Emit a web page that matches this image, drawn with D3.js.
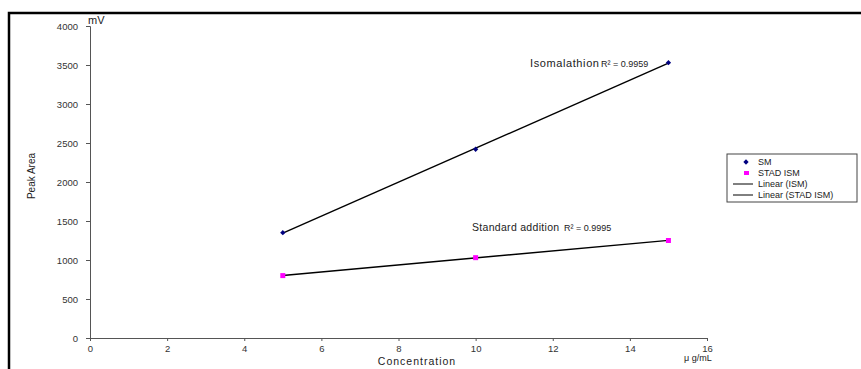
<!DOCTYPE html>
<meta charset="utf-8">
<body style="margin:0;background:#fff">
<script src="https://cdn.jsdelivr.net/npm/d3@7"></script>
<svg id="chart" width="861" height="369"></svg>
<script>
// data
var conc = [5, 10, 15];
var ism = [1350, 2420, 3530];
var stadIsm = [800, 1030, 1250];
var xTicks = [0, 2, 4, 6, 8, 10, 12, 14, 16];
var yTicks = [0, 500, 1000, 1500, 2000, 2500, 3000, 3500, 4000];
var legendNames = ["SM", "STAD ISM", "Linear (ISM)", "Linear (STAD ISM)"];

var svg = d3.select("#chart");
var font = "Liberation Sans, Arial, sans-serif";

// outer frame
svg.append("rect").attr("x", 9).attr("y", 13).attr("width", 900).attr("height", 400)
  .attr("fill", "none").attr("stroke", "#000").attr("stroke-width", 2.5);

var x = d3.scaleLinear().domain([0, 16]).range([90, 707]);
var y = d3.scaleLinear().domain([0, 4000]).range([338, 26]);

var xAxis = svg.append("g").attr("transform", "translate(0,338)")
  .call(d3.axisBottom(x).tickValues(xTicks).tickSize(3).tickPadding(4).tickFormat(d3.format("d")));
var yAxis = svg.append("g").attr("transform", "translate(90,0)")
  .call(d3.axisLeft(y).tickValues(yTicks).tickSize(4).tickPadding(8).tickFormat(d3.format("d")));

[xAxis, yAxis].forEach(function(a) {
  a.select(".domain").attr("stroke", "#555");
  a.selectAll(".tick line").attr("stroke", "#555");
  a.selectAll("text").attr("fill", "#333").style("font-family", font).style("font-size", "9.5px");
});

// linear fit
function fit(xs, ys) {
  var n = xs.length, mx = d3.mean(xs), my = d3.mean(ys);
  var sxy = 0, sxx = 0;
  for (var i = 0; i < n; i++) { sxy += (xs[i]-mx)*(ys[i]-my); sxx += (xs[i]-mx)*(xs[i]-mx); }
  var b = sxy / sxx;
  return function(v) { return my + b*(v - mx); };
}
var line = d3.line().x(function(d){ return x(d[0]); }).y(function(d){ return y(d[1]); });
[ism, stadIsm].forEach(function(s) {
  var f = fit(conc, s);
  var ext = d3.extent(conc);
  svg.append("path").attr("d", line([[ext[0], f(ext[0])], [ext[1], f(ext[1])]]))
    .attr("stroke", "#000").attr("stroke-width", 1.4).attr("fill", "none");
});

// markers
var diamond = d3.symbol().type(d3.symbolSquare).size(14);
svg.selectAll(".ism").data(conc).enter().append("path")
  .attr("transform", function(d, i){ return "translate(" + x(d) + "," + y(ism[i]) + ") rotate(45)"; })
  .attr("d", diamond).attr("fill", "#000080");
svg.selectAll(".stad").data(conc).enter().append("rect")
  .attr("x", function(d){ return x(d) - 2.5; })
  .attr("y", function(d, i){ return y(stadIsm[i]) - 2.5; })
  .attr("width", 5).attr("height", 5).attr("fill", "#ff00ff");

// text
function txt(s, px, py, size, anchor) {
  return svg.append("text").attr("x", px).attr("y", py).text(s)
    .style("font-family", font).style("font-size", size + "px")
    .attr("text-anchor", anchor || "start").attr("fill", "#222");
}
txt("mV", 88, 24, 11);
txt("Concentration", 417, 365, 10.5, "middle").style("letter-spacing", "1px");
txt("\u03bc g/mL", 684, 361, 9);
txt("Peak Area", 0, 0, 10, "middle").attr("transform", "translate(35,176) rotate(-90)");
txt("Isomalathion", 530, 67, 11).style("letter-spacing", "0.6px");
txt("R\u00b2 = 0.9959", 601, 67, 9);
txt("Standard addition", 472, 231, 10.5).style("letter-spacing", "0.3px");
txt("R\u00b2 = 0.9995", 564, 231, 9);

// legend
var lg = svg.append("g");
lg.append("rect").attr("x", 727).attr("y", 154).attr("width", 130).attr("height", 48)
  .attr("fill", "#fff").attr("stroke", "#444").attr("stroke-width", 1);
legendNames.forEach(function(name, i) {
  var ly = 165 + i * 11;
  if (i === 0) lg.append("path").attr("transform", "translate(746," + (ly - 3) + ") rotate(45)").attr("d", diamond).attr("fill", "#000080");
  else if (i === 1) lg.append("rect").attr("x", 744).attr("y", ly - 5).attr("width", 5).attr("height", 4).attr("fill", "#ff00ff");
  else lg.append("line").attr("x1", 733).attr("x2", 753).attr("y1", ly - 3).attr("y2", ly - 3).attr("stroke", "#000");
  lg.append("text").attr("x", 758).attr("y", ly).text(name)
    .style("font-family", font).style("font-size", "9px").attr("fill", "#222");
});
</script>
</body>
